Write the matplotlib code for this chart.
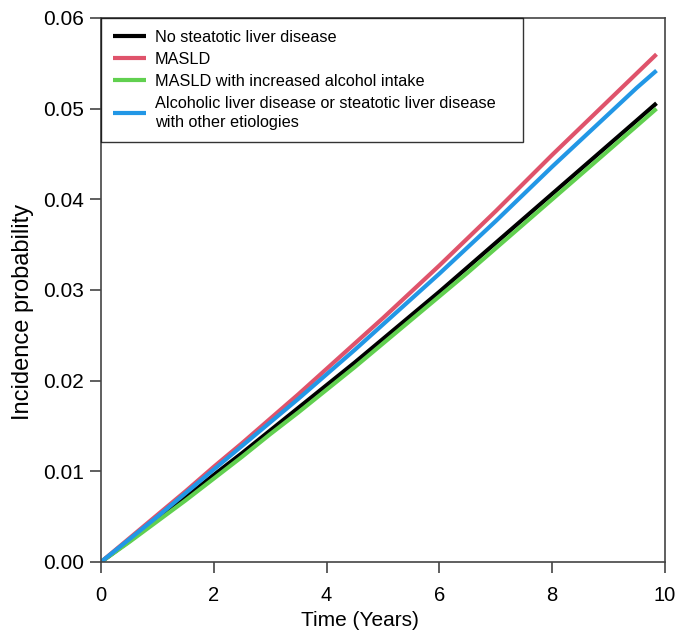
import matplotlib
matplotlib.use('Agg')
import matplotlib.pyplot as plt

plt.rcParams['font.family'] = ['Liberation Sans', 'DejaVu Sans']

# time points (years) and cumulative incidence
years = [0, 0.5, 1, 1.5, 2, 2.5, 3, 3.5, 4, 4.5, 5, 5.5, 6, 6.5, 7, 7.5, 8, 8.5, 9, 9.5, 9.85]
no_sld = [0, .0023, .0047, .0071, .0096, .0120, .0145, .0170, .0195, .0220, .0246,
          .0272, .0298, .0325, .0352, .0379, .0406, .0433, .0460, .0487, .0506]
masld = [0, .0026, .0052, .0078, .0105, .0131, .0158, .0185, .0213, .0241, .0269,
         .0298, .0327, .0357, .0387, .0418, .0449, .0479, .0509, .0539, .0560]
masld_alc = [0, .0022, .0045, .0068, .0092, .0116, .0141, .0165, .0190, .0215, .0241,
             .0267, .0293, .0319, .0346, .0373, .0400, .0427, .0454, .0481, .0500]
ald_other = [0, .0025, .0050, .0076, .0102, .0128, .0154, .0180, .0207, .0234, .0262,
             .0290, .0318, .0347, .0376, .0406, .0436, .0465, .0494, .0523, .0542]

labels = ['No steatotic liver disease', 'MASLD', 'MASLD with increased alcohol intake',
          'Alcoholic liver disease or steatotic liver disease\nwith other etiologies']
colors = ['#000000', '#DF536B', '#61D04F', '#2297E6']
x_ticks = [0, 2, 4, 6, 8, 10]
y_ticks = [0.00, 0.01, 0.02, 0.03, 0.04, 0.05, 0.06]

fig = plt.figure(figsize=(6.83, 6.31), dpi=100)
ax = fig.add_axes([0.1479, 0.1094, 0.8257, 0.8621])

for series, lab, col in zip([no_sld, masld, masld_alc, ald_other], labels, colors):
    ax.plot(years, series, color=col, linewidth=3, label=lab, solid_capstyle='butt')

ax.set_xlim(0, 10)
ax.set_ylim(0, 0.06)
ax.set_xticks(x_ticks)
ax.set_yticks(y_ticks)
ax.set_yticklabels(['%.2f' % v for v in y_ticks])
ax.tick_params(axis='both', length=8, width=1.2, color='#444444', direction='out')
ax.tick_params(axis='x', labelsize=14.5, pad=9.5)
ax.tick_params(axis='y', labelsize=15, pad=4)
for s in ax.spines.values():
    s.set_color('#444444')
    s.set_linewidth(1.2)

ax.set_xlabel('Time (Years)', fontsize=15)
ax.xaxis.set_label_coords(0.459, -0.09)
ax.set_ylabel('Incidence probability', fontsize=17)
ax.yaxis.set_label_coords(-0.118, 0.46)

leg = ax.legend(loc='upper left', bbox_to_anchor=(0, 0, 0.748, 1), mode='expand',
                fontsize=11.7, borderaxespad=0, frameon=True, fancybox=False,
                handlelength=2.0, handletextpad=0.55, labelspacing=0.42, borderpad=0.75)
leg.get_frame().set_edgecolor('black')
leg.get_frame().set_linewidth(1.0)
for line in leg.get_lines():
    line.set_linewidth(3)
for t in leg.get_texts():
    t.set_linespacing(1.35)

plt.savefig('out.png', dpi=100)
